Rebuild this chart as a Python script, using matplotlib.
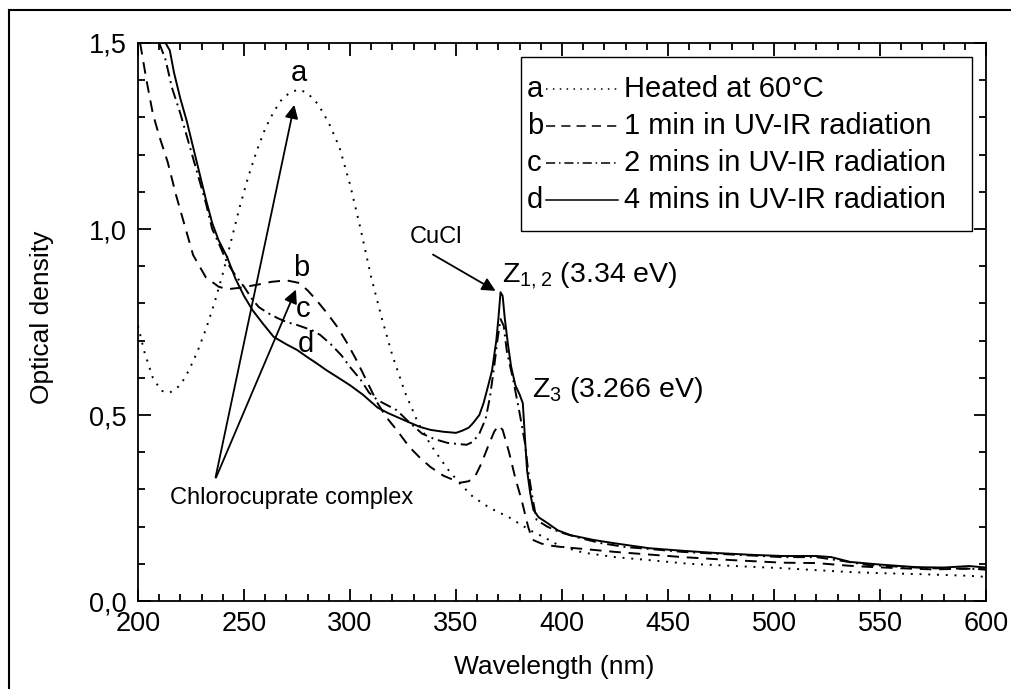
import matplotlib
matplotlib.use("Agg")
from matplotlib import pyplot as plt
from matplotlib.lines import Line2D
from matplotlib.ticker import MultipleLocator, FuncFormatter

plt.rcParams["font.family"] = ["Liberation Sans", "DejaVu Sans"]
plt.rcParams["mathtext.default"] = "regular"

# a - heated at 60 C (dotted)
xa = [200, 203, 207, 211, 215, 220, 224, 228, 232, 236, 240, 244, 248, 252, 256, 260, 264, 268,
      272, 276, 280, 285, 290, 295, 300, 305, 310, 315, 320, 326, 332, 338, 346, 352, 358, 366,
      375, 385, 392, 399, 410, 425, 441, 460, 489, 505, 520, 535, 550, 570, 591, 600]
ya = [0.74, 0.67, 0.60, 0.565, 0.56, 0.58, 0.62, 0.67, 0.73, 0.80, 0.88, 0.97, 1.06, 1.14, 1.21,
      1.27, 1.315, 1.35, 1.368, 1.375, 1.365, 1.335, 1.285, 1.22, 1.12, 1.0, 0.87, 0.76, 0.66,
      0.56, 0.48, 0.42, 0.355, 0.315, 0.28, 0.25, 0.225, 0.19, 0.17, 0.148, 0.13, 0.118, 0.11,
      0.10, 0.092, 0.088, 0.083, 0.078, 0.075, 0.072, 0.068, 0.065]

# b - 1 min (dashed)
xb = [201, 204, 207, 210, 214, 218, 221, 226, 232, 238, 242, 248, 256, 263, 270, 276, 280, 284,
      289, 294, 299, 303, 308, 313, 317, 322, 328, 333, 338, 344, 349, 352, 356, 359, 362, 365,
      368, 370, 372, 375, 378, 381, 384, 386, 390, 393, 400, 410, 425, 441, 457, 480, 504, 520,
      535, 544, 560, 575, 591, 600]
yb = [1.50, 1.40, 1.31, 1.25, 1.18, 1.09, 1.03, 0.93, 0.87, 0.845, 0.838, 0.842, 0.85, 0.858,
      0.862, 0.855, 0.835, 0.81, 0.775, 0.737, 0.69, 0.648, 0.59, 0.532, 0.495, 0.46, 0.414,
      0.385, 0.36, 0.337, 0.325, 0.318, 0.322, 0.335, 0.37, 0.414, 0.455, 0.472, 0.46, 0.40,
      0.33, 0.27, 0.20, 0.165, 0.155, 0.15, 0.145, 0.14, 0.132, 0.125, 0.118, 0.11, 0.103,
      0.102, 0.095, 0.092, 0.088, 0.085, 0.087, 0.085]

# c - 2 mins (dash-dot)
xc = [210, 213, 216, 220, 224, 228, 232, 235, 239, 242, 246, 250, 254, 257, 261, 266, 270, 275,
      282, 286, 291, 296, 300, 305, 309, 313, 318, 322, 328, 334, 340, 346, 351, 355, 358, 361,
      364, 366, 368, 369.5, 371, 372.5, 374, 377, 380, 382.5, 384, 386, 388, 393, 399, 408, 418,
      430, 441, 457, 480, 504, 520, 532, 544, 560, 575, 591, 600]
yc = [1.50, 1.455, 1.38, 1.31, 1.23, 1.15, 1.07, 1.0, 0.95, 0.91, 0.875, 0.845, 0.81, 0.79,
      0.775, 0.76, 0.75, 0.742, 0.728, 0.715, 0.69, 0.66, 0.629, 0.595, 0.56, 0.54, 0.525, 0.513,
      0.48, 0.45, 0.435, 0.425, 0.422, 0.42, 0.428, 0.45, 0.49, 0.548, 0.63, 0.70, 0.758, 0.74,
      0.67, 0.594, 0.505, 0.425, 0.352, 0.28, 0.218, 0.20, 0.185, 0.17, 0.156, 0.145, 0.14,
      0.132, 0.125, 0.118, 0.118, 0.108, 0.097, 0.092, 0.088, 0.087, 0.085]

# d - 4 mins (solid)
xd = [211, 213, 215, 217, 220, 223, 226, 229, 232, 235, 238, 242, 246, 250, 254, 259, 264, 270,
      275, 280, 284, 289, 294, 300, 306, 313, 318, 322, 328, 333, 338, 344, 350, 353, 356, 358,
      361, 363, 365, 367, 369, 370, 371, 372, 373, 374.5, 376, 378, 380, 381.5, 382.5, 383.5,
      385, 386.5, 389, 393, 398, 404, 410, 415, 425, 441, 457, 473, 490, 504, 520, 527, 536,
      550, 567, 580, 592, 600]
yd = [1.50, 1.50, 1.48, 1.42, 1.35, 1.29, 1.22, 1.15, 1.08, 1.016, 0.97, 0.925, 0.866, 0.82,
      0.782, 0.745, 0.71, 0.69, 0.675, 0.655, 0.64, 0.62, 0.602, 0.58, 0.555, 0.52, 0.505,
      0.495, 0.48, 0.468, 0.46, 0.455, 0.452, 0.458, 0.466, 0.478, 0.50, 0.532, 0.575, 0.62,
      0.70, 0.76, 0.83, 0.82, 0.76, 0.69, 0.63, 0.58, 0.555, 0.532, 0.44, 0.352, 0.29, 0.245,
      0.225, 0.21, 0.19, 0.177, 0.17, 0.164, 0.155, 0.142, 0.135, 0.129, 0.124, 0.121, 0.121,
      0.118, 0.105, 0.098, 0.091, 0.09, 0.094, 0.09]

letters = ["a", "b", "c", "d"]
labels = ["Heated at 60°C", "1 min in UV-IR radiation",
          "2 mins in UV-IR radiation", "4 mins in UV-IR radiation"]
styles = [(0, (1, 3.5)), (0, (6, 4)), (0, (6, 2.5, 1, 2.5)), "-"]

fig = plt.figure(figsize=(10.11, 6.89), dpi=100)
ax = fig.add_axes([0.1365, 0.1277, 0.8388, 0.8099])

lw = 1.4
for xs, ys, ls in zip([xa, xb, xc, xd], [ya, yb, yc, yd], styles):
    ax.plot(xs, ys, color="black", linestyle=ls, linewidth=lw)

ax.set_xlim(200, 600)
ax.set_ylim(0, 1.5)
ax.xaxis.set_major_locator(MultipleLocator(50))
ax.xaxis.set_minor_locator(MultipleLocator(10))
ax.yaxis.set_major_locator(MultipleLocator(0.5))
ax.yaxis.set_minor_locator(MultipleLocator(0.1))
ax.yaxis.set_major_formatter(FuncFormatter(lambda v, p: f"{v:.1f}".replace(".", ",")))
ax.tick_params(which="both", direction="in", top=True, right=True, labelsize=19.5, width=1.3)
ax.tick_params(which="major", length=9)
ax.tick_params(which="minor", length=5)
ax.tick_params(axis="x", pad=7.5)
ax.tick_params(axis="y", pad=8)
for s in ax.spines.values():
    s.set_linewidth(1.3)
fig.text(0.548, 0.032, "Wavelength (nm)", fontsize=19, ha="center", va="center")
fig.text(0.042, 0.54, "Optical density", fontsize=19, ha="center", va="center", rotation=90)

# curve letters
ax.text(275.8, 1.419, "a", fontsize=21, ha="center", va="center")
ax.text(277, 0.895, "b", fontsize=21, ha="center", va="center")
ax.text(278, 0.785, "c", fontsize=21, ha="center", va="center")
ax.text(279, 0.69, "d", fontsize=21, ha="center", va="center")

# annotations
arrow = dict(arrowstyle="-|>", color="black", lw=1.3, mutation_scale=20)
ax.annotate("", xy=(274, 1.341), xytext=(236.3, 0.325), arrowprops=arrow)
ax.annotate("", xy=(275, 0.844), xytext=(236.3, 0.325), arrowprops=arrow)
ax.text(272.6, 0.277, "Chlorocuprate complex", fontsize=17, ha="center", va="center")
ax.annotate("", xy=(369.8, 0.83), xytext=(338, 0.935), arrowprops=arrow)
ax.text(340.6, 0.978, "CuCl", fontsize=17, ha="center", va="center")
ax.text(371.5, 0.857, "Z$_{1,2}$ (3.34 eV)", fontsize=20.5, ha="left", va="baseline")
ax.text(385.8, 0.548, "Z$_{3}$ (3.266 eV)", fontsize=20.5, ha="left", va="baseline")

# legend drawn with letters in front of the line samples
ax.add_patch(plt.Rectangle((0.452, 0.663), 0.5315, 0.312, transform=ax.transAxes,
                           fill=False, edgecolor="black", linewidth=1.0))
rows = [0.918, 0.852, 0.785, 0.719]
for r, letter, lab, ls in zip(rows, letters, labels, styles):
    ax.text(0.459, r, letter, transform=ax.transAxes, fontsize=21, va="center")
    ax.add_line(Line2D([0.481, 0.566], [r, r], transform=ax.transAxes, color="black",
                       linestyle=ls, linewidth=1.1))
    ax.text(0.573, r, lab, transform=ax.transAxes, fontsize=21, va="center")

# outer frame (left and top)
fig.add_artist(Line2D([9 / 1011, 9 / 1011], [0, 1 - 10 / 689], color="black", lw=1.5))
fig.add_artist(Line2D([9 / 1011, 1], [1 - 10 / 689, 1 - 10 / 689], color="black", lw=1.5))

fig.savefig("out.png", dpi=100)
